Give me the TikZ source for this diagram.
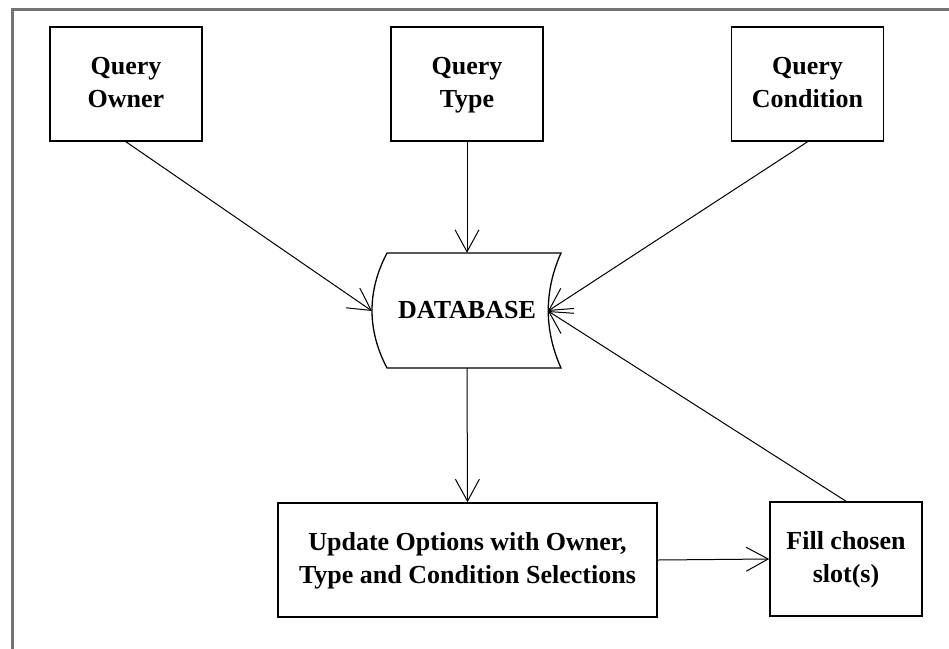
\documentclass[tikz,border=0pt]{standalone}
\usepackage{fontspec}
\setmainfont{Liberation Serif}
\usetikzlibrary{arrows.meta}
\begin{document}
\begin{tikzpicture}[x=1pt,y=-1pt,
		box/.style={draw,line width=1.6pt,fill=white,minimum width=152pt,minimum height=114pt,
			inner sep=0pt,align=center,font=\fontsize{26}{33}\selectfont\bfseries},
		arr/.style={line width=1pt,-{Straight Barb[length=22pt,width=24pt,line width=1pt]}}]
			\useasboundingbox (0,0) rectangle (949,648);
			\draw[black!55,line width=3pt] (12,652) -- (12,9) -- (953,9);
			\node[box] (owner) at (126,84) {\strut Query\\Owner\strut};
			\node[box] (type) at (467,84) {\strut Query\\Type\strut};
			\node[box] (cond) at (807.5,84) {\strut Query\\Condition\strut};
			\node[box,minimum width=379pt] (update) at (467.5,560) {\strut Update Options with Owner,\\Type and Condition Selections\strut};
			\node[box] (fill) at (846,559) {\strut Fill chosen\\slot(s)\strut};
			\draw[line width=1.3pt] (387,253) -- (561,253) .. controls (544,291) and (544,330) .. (561,368)
				-- (387,368) .. controls (367,330) and (367,291) .. (387,253) -- cycle;
			\node[minimum width=150pt,minimum height=115pt,inner sep=0pt,font=\fontsize{26}{33}\selectfont\bfseries] (db) at (467,310.5) {DATABASE};
			\coordinate (dbin) at (372,311);
			\coordinate (dbout) at (548,311);
			\draw[arr] (owner.south) -- (dbin);
			\draw[arr] (type.south) -- (db.north);
			\draw[arr] (cond.south) -- (dbout);
			\draw[arr] (fill.north) -- (dbout);
			\draw[arr] (db.south) -- (update.north);
			\draw[arr] (update.east) -- (fill.west);
		\end{tikzpicture}
\end{document}
